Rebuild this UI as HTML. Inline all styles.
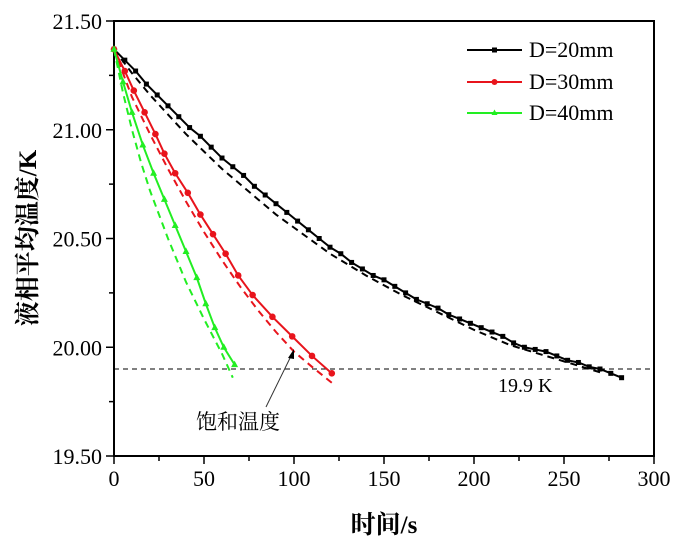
<!DOCTYPE html>
<html><head><meta charset="utf-8"><style>
body{margin:0;background:#fff}
svg text{font-family:"Liberation Serif","Noto Serif CJK SC",serif}
</style></head><body>
<svg id="c" width="676" height="547"></svg>
<script>
const blackT=[0,6,12,18,24,30,36,42,48,54,60,66,72,78,84,90,96,102,108,114,120,126,132,138,144,150,156,162,168,174,180,186,192,198,204,210,216,222,228,234,240,246,252,258,264,270,276,282];
const blackV=[21.37,21.32,21.27,21.21,21.16,21.11,21.06,21.01,20.97,20.92,20.87,20.83,20.79,20.74,20.70,20.66,20.62,20.58,20.54,20.50,20.46,20.43,20.39,20.36,20.33,20.31,20.28,20.25,20.22,20.20,20.18,20.15,20.13,20.11,20.09,20.07,20.05,20.02,20.00,19.99,19.98,19.96,19.94,19.93,19.91,19.90,19.88,19.86];
const blackDT=[0,10,20,30,40,50,60,70,80,90,100,120,140,160,180,200,220,240,260,272];
const blackDV=[21.37,21.26,21.16,21.07,20.98,20.90,20.82,20.75,20.68,20.61,20.55,20.43,20.33,20.24,20.16,20.08,20.01,19.96,19.91,19.88];
const redT=[0,6,11,17,23,28,34,41,48,55,62,69,77,88,99,110,121];
const redV=[21.37,21.27,21.18,21.08,20.98,20.89,20.80,20.71,20.61,20.52,20.43,20.33,20.24,20.14,20.05,19.96,19.88];
const redDT=[0,10,20,30,40,50,60,70,80,90,100,110,122];
const redDV=[21.37,21.15,20.98,20.82,20.67,20.53,20.40,20.28,20.17,20.07,19.98,19.91,19.83];
const greenT=[0,5,10,16,22,28,34,40,46,51,56,61,67];
const greenV=[21.37,21.22,21.08,20.93,20.80,20.68,20.56,20.44,20.32,20.20,20.09,20.00,19.92];
const greenDT=[0,5,10,15,20,30,40,50,60,66];
const greenDV=[21.37,21.17,21.00,20.85,20.72,20.50,20.30,20.13,19.97,19.86];
const xTicks=[0,50,100,150,200,250,300];
const yTicks=[19.5,20.0,20.5,21.0,21.5];
const yLabels=["19.50","20.00","20.50","21.00","21.50"];
const satT=19.9;

const X0=114,X1=654,Y0=456,Y1=21;
const xs=v=>X0+(v-0)/300*(X1-X0);
const ys=v=>Y0-(v-19.5)/2*(Y0-Y1);
const svg=document.getElementById('c');
const NS='http://www.w3.org/2000/svg';
function mk(tag,attrs,parent){const e=document.createElementNS(NS,tag);for(const k in attrs)e.setAttribute(k,attrs[k]);(parent||svg).appendChild(e);return e;}

let f=mk('rect',{x:X0,y:Y1,width:X1-X0,height:Y0-Y1,fill:'none',stroke:'#000','stroke-width':2});


for(let v=0;v<=300;v+=25){
  const major=v%50===0;
  const t=mk('line',{x1:xs(v),x2:xs(v),y1:Y0,y2:Y0+(major?8:5),stroke:'#000','stroke-width':1.5});
  
  
}
xTicks.forEach(v=>{
  const t=mk('text',{x:xs(v),y:Y0+30,'text-anchor':'middle','font-size':22});
  t.textContent=v;
  
  
});
for(let v=19.5;v<=21.51;v+=0.25){
  const major=Math.abs((v*2)-Math.round(v*2))<1e-6;
  const t=mk('line',{x1:X0,x2:X0-(major?8:5),y1:ys(v),y2:ys(v),stroke:'#000','stroke-width':1.5});
  
  
}
yTicks.forEach((v,i)=>{
  const t=mk('text',{x:X0-12,y:ys(v)+8,'text-anchor':'end','font-size':22});
  t.textContent=yLabels[i];
  
  
});
let xt=mk('text',{x:384,y:533,'text-anchor':'middle','font-size':25,'font-weight':'bold'});
xt.textContent='时间/s';


let yt=mk('text',{x:0,y:0,'text-anchor':'middle','font-size':25,'font-weight':'bold',transform:'translate(36,238) rotate(-90)'});
yt.textContent='液相平均温度/K';



let sl=mk('line',{x1:X0,x2:X1,y1:ys(satT),y2:ys(satT),stroke:'#000','stroke-width':1,'stroke-dasharray':'5,4'});


let sll=mk('text',{x:498,y:392,'font-size':20});
sll.textContent='19.9 K';



function series(T,V,color,dashed,marker,name){
  const pts=T.map((t,i)=>xs(t)+','+ys(V[i])).join(' ');
  const p=mk('polyline',{points:pts,fill:'none',stroke:color,'stroke-width':2,'stroke-dasharray':dashed?'7,5':'none'});
  
  
  if(marker){
    T.forEach((t,i)=>{
      let m;
      const cx=xs(t),cy=ys(V[i]);
      if(marker==='sq')m=mk('rect',{x:cx-2.5,y:cy-2.5,width:5,height:5,fill:color});
      else if(marker==='ci')m=mk('circle',{cx:cx,cy:cy,r:3.3,fill:color});
      else m=mk('polygon',{points:`${cx},${cy-4} ${cx-3.5},${cy+2.5} ${cx+3.5},${cy+2.5}`,fill:color});
      
      
    });
  }
}
series(blackDT,blackDV,'#000',true,null,'d20-dashed');
series(redDT,redDV,'#e8141c',true,null,'d30-dashed');
series(greenDT,greenDV,'#22ee22',true,null,'d40-dashed');
series(blackT,blackV,'#000',false,'sq','d20-line');
series(redT,redV,'#e8141c',false,'ci','d30-line');
series(greenT,greenV,'#22ee22',false,'tr','d40-line');

let ar=mk('line',{x1:266,y1:407,x2:292,y2:354,stroke:'#333','stroke-width':1});


let ah=mk('polygon',{points:'294,349 288,358 294,359',fill:'#000'});


let an=mk('text',{x:196,y:429,'font-size':21,'font-family':'"Noto Serif CJK SC",serif'});
an.textContent='饱和温度';



const lg=[['D=20mm','#000','sq',50],['D=30mm','#e8141c','ci',82],['D=40mm','#22ee22','tr',113]];
lg.forEach(([lab,c,m,y])=>{
  const l=mk('line',{x1:467,x2:522,y1:y,y2:y,stroke:c,'stroke-width':2});
  
  
  if(m==='sq')mk('rect',{x:492,y:y-2.5,width:5,height:5,fill:c});
  else if(m==='ci')mk('circle',{cx:494.5,cy:y,r:3,fill:c});
  else mk('polygon',{points:`494.5,${y-3.5} 491.5,${y+2} 497.5,${y+2}`,fill:c});
  const t=mk('text',{x:529,y:y+7,'font-size':22});
  t.textContent=lab;
  
  
});
</script>
</body></html>
